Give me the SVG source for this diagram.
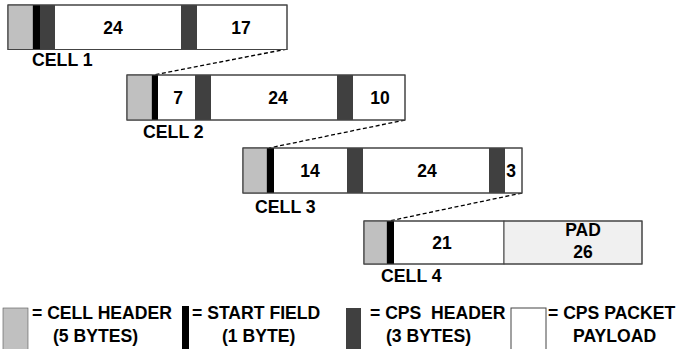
<svg xmlns="http://www.w3.org/2000/svg" width="686" height="349" viewBox="0 0 686 349">
<style>
.frame{fill:#ffffff;stroke:#444;stroke-width:1}
.hdr{fill:#c0c0c0;stroke:#555;stroke-width:0.6}
.st{fill:#000}
.cps{fill:#404040}
.pad{fill:#f0f0f0;stroke:#444;stroke-width:1}
.pl{fill:#ffffff;stroke:#444;stroke-width:1}
text{font-family:"Liberation Sans",Arial,sans-serif;font-weight:bold;fill:#000}
.num{font-size:17.5px;text-anchor:middle}
.lbl{font-size:17.7px}
.leg{font-size:17.6px}
.dash{stroke:#000;stroke-width:1.3;stroke-dasharray:4 2.5;fill:none}
</style>
<rect width="686" height="349" fill="#ffffff"/>
<g id="connectors">
<line class="dash" x1="287" y1="49" x2="154" y2="75"/>
<line class="dash" x1="405" y1="120" x2="269" y2="148"/>
<line class="dash" x1="522" y1="193" x2="389" y2="221"/>
</g>
<g id="cell1">
<rect class="frame" x="8" y="5" width="279" height="44.5"/>
<rect class="hdr" x="8" y="5" width="25" height="44.5"/>
<rect class="st" x="33" y="5" width="7" height="44.5"/>
<rect class="cps" x="40" y="5" width="15" height="44.5"/>
<rect class="cps" x="181" y="5" width="16" height="44.5"/>
<rect x="8" y="5" width="279" height="44.5" fill="none" stroke="#444"/>
<text class="num" x="113" y="33.5">24</text>
<text class="num" x="241" y="33.5">17</text>
<text class="lbl" x="32" y="66">CELL 1</text>
</g>
<g id="cell2">
<rect class="frame" x="127" y="75" width="278" height="45"/>
<rect class="hdr" x="127" y="75" width="25" height="45"/>
<rect class="st" x="152" y="75" width="6" height="45"/>
<rect class="cps" x="195" y="75" width="16" height="45"/>
<rect class="cps" x="337" y="75" width="16" height="45"/>
<rect x="127" y="75" width="278" height="45" fill="none" stroke="#444"/>
<text class="num" x="178" y="103.5">7</text>
<text class="num" x="278" y="103.5">24</text>
<text class="num" x="380" y="103.5">10</text>
<text class="lbl" x="143" y="138">CELL 2</text>
</g>
<g id="cell3">
<rect class="frame" x="243" y="148" width="279" height="45"/>
<rect class="hdr" x="243" y="148" width="24" height="45"/>
<rect class="st" x="267" y="148" width="7" height="45"/>
<rect class="cps" x="347" y="148" width="16" height="45"/>
<rect class="cps" x="489" y="148" width="16" height="45"/>
<rect x="243" y="148" width="279" height="45" fill="none" stroke="#444"/>
<text class="num" x="310" y="177">14</text>
<text class="num" x="427" y="177">24</text>
<text class="num" x="511" y="177">3</text>
<text class="lbl" x="255" y="213">CELL 3</text>
</g>
<g id="cell4">
<rect class="frame" x="364" y="221" width="140" height="43"/>
<rect class="pad" x="504" y="221" width="138" height="43"/>
<rect class="hdr" x="364" y="221" width="23" height="43"/>
<rect class="st" x="387" y="221" width="7" height="43"/>
<rect x="364" y="221" width="278" height="43" fill="none" stroke="#444"/>
<text class="num" x="442" y="248.5">21</text>
<text class="num" x="583" y="235.5">PAD</text>
<text class="num" x="583" y="257.5">26</text>
<text class="lbl" x="381" y="282">CELL 4</text>
</g>
<g id="legend-cell-header">
<rect class="hdr" x="3" y="308" width="25" height="45"/>
<text class="leg" x="32" y="319">= CELL HEADER</text>
<text class="leg" x="53" y="342">(5 BYTES)</text>
</g>
<g id="legend-start-field">
<rect class="st" x="182" y="306" width="7" height="47"/>
<text class="leg" x="192" y="319">= START FIELD</text>
<text class="leg" x="222" y="342">(1 BYTE)</text>
</g>
<g id="legend-cps-header">
<rect class="cps" x="346" y="308" width="15" height="45"/>
<text class="leg" x="370" y="319" xml:space="preserve">= CPS  HEADER</text>
<text class="leg" x="386" y="342">(3 BYTES)</text>
</g>
<g id="legend-payload">
<rect class="pl" x="511" y="308" width="35" height="45"/>
<text class="leg" x="548" y="319">= CPS PACKET</text>
<text class="leg" x="573" y="342">PAYLOAD</text>
</g>
</svg>
